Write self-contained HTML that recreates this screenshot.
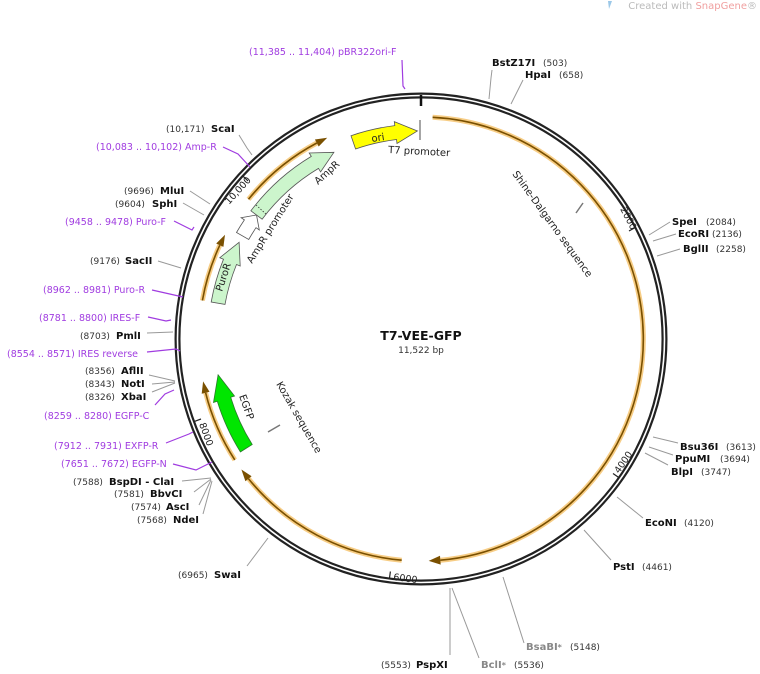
<!DOCTYPE html>
<html><head><meta charset="utf-8"><style>
html,body{margin:0;padding:0;background:#fff;width:760px;height:674px;overflow:hidden}
svg{display:block}
text{font-family:"DejaVu Sans","Liberation Sans",sans-serif}
.e{font-weight:bold;font-size:10px;fill:#111}
.n{font-size:9px;fill:#333}
.p{font-size:9.5px;fill:#a03ce0}
.g{font-weight:bold;font-size:10px;fill:#888}
.gn{font-size:9px;fill:#888}
.l{stroke:#999;stroke-width:1;fill:none}
.pl{stroke:#a03ce0;stroke-width:1.2;fill:none}
.f{font-size:10px;fill:#222}
.og{stroke:#f6c878;stroke-width:5;fill:none;opacity:.9}
.oc{stroke:#7a5000;stroke-width:1.6;fill:none}
.ah{fill:#7a5000}
</style></head><body>
<svg width="760" height="674" viewBox="0 0 760 674" xmlns="http://www.w3.org/2000/svg">
<text x="757" y="9" text-anchor="end" font-size="10" fill="#bbb">Created with <tspan fill="#f0a0a0">SnapGene</tspan>®</text>
<path d="M608,1 l4,0 l-3,8z" fill="#9cc8e8"/>

<!-- backbone -->
<circle cx="421" cy="339" r="243.5" fill="none" stroke="#222" stroke-width="6"/>
<circle cx="421" cy="339" r="243.5" fill="none" stroke="#fff" stroke-width="1.6"/>
<line x1="421" y1="95" x2="421" y2="106" stroke="#111" stroke-width="2.5"/>

<!-- orange arcs -->
<g>
<path class="og" d="M432.6,117.3 A222,222 0 0 1 440.3,560.2"/>
<path class="oc" d="M432.6,117.3 A222,222 0 0 1 440.3,560.2"/>
<path class="ah" d="M428.7,560.9 L440.7,564.6 L440,555.8Z"/>
<path class="og" d="M401.7,560.2 A222,222 0 0 1 248.5,478.7"/>
<path class="oc" d="M401.7,560.2 A222,222 0 0 1 248.5,478.7"/>
<path class="ah" d="M241.4,469.5 L245.4,481.2 L251.6,476.2Z"/>
<path class="og" d="M234.8,459.9 A222,222 0 0 1 205.6,392.7"/>
<path class="oc" d="M234.8,459.9 A222,222 0 0 1 205.6,392.7"/>
<path class="ah" d="M203.1,381.4 L201.7,393.7 L209.5,391.7Z"/>
<path class="og" d="M202.4,300.5 A222,222 0 0 1 219.8,245.2"/>
<path class="oc" d="M202.4,300.5 A222,222 0 0 1 219.8,245.2"/>
<path class="ah" d="M225,234.8 L216.2,243.5 L223.4,246.9Z"/>
<path class="og" d="M248.5,199.3 A222,222 0 0 1 316.8,143"/>
<path class="oc" d="M248.5,199.3 A222,222 0 0 1 316.8,143"/>
<path class="ah" d="M327.2,137.8 L314.9,139.5 L318.7,146.5Z"/>
</g>

<!-- features -->
<path d="M351,135.7 A215,215 0 0 1 394.8,125.6 L394.3,121.6 L417.4,131 L397,143.5 L396.5,139.5 A201,201 0 0 0 355.6,149 Z" fill="#ffff00" stroke="#555" stroke-width="0.8"/>
<text x="0" y="0" font-size="10" fill="#222" transform="translate(372,142) rotate(-9)">ori</text>
<line x1="420" y1="120" x2="420" y2="140" stroke="#888" stroke-width="1.5"/>
<text x="0" y="0" class="f" transform="translate(388,153) rotate(3)">T7 promoter</text>

<path d="M236.5,232.5 A213,213 0 0 1 244.4,219.9 L241.1,217.7 L256.5,215 L259.3,230 L256,227.7 A199,199 0 0 0 248.7,239.5 Z" fill="#fff" stroke="#555" stroke-width="0.8"/>
<path d="M250.9,210.8 A213,213 0 0 1 311.3,156.4 L309.2,153 L333.9,152.3 L320.6,171.9 L318.5,168.4 A199,199 0 0 0 262.1,219.2 Z" fill="#ccf5cc" stroke="#555" stroke-width="0.8"/>
<line x1="256" y1="205" x2="266" y2="214" stroke="#333" stroke-width="0.8" stroke-dasharray="1.5,1.5"/>
<text x="0" y="0" class="f" transform="translate(318,185) rotate(-42)">AmpR</text>
<text x="0" y="0" class="f" transform="translate(252,264) rotate(-58)">AmpR promoter</text>

<path d="M211.2,302 A213,213 0 0 1 223.5,259.2 L219.8,257.7 L239.1,242.3 L240.2,266 L236.5,264.5 A199,199 0 0 0 225,304.4 Z" fill="#ccf5cc" stroke="#555" stroke-width="0.8"/>
<text x="0" y="0" class="f" transform="translate(222,292) rotate(-72)">PuroR</text>

<path d="M240.4,451.9 A213,213 0 0 1 217.3,401.3 L213.5,402.4 L218.1,374.8 L234.5,396 L230.7,397.2 A199,199 0 0 0 252.2,444.5 Z" fill="#00e600" stroke="#2a7a2a" stroke-width="0.8"/>
<text x="0" y="0" class="f" transform="translate(239,396) rotate(70)">EGFP</text>

<line x1="576" y1="213" x2="583" y2="203" stroke="#777" stroke-width="1.5"/>
<text x="0" y="0" class="f" transform="translate(512,174) rotate(54)">Shine-Dalgarno sequence</text>
<line x1="268" y1="432" x2="280" y2="425" stroke="#777" stroke-width="1.5"/>
<text x="0" y="0" class="f" transform="translate(276,384) rotate(60)">Kozak sequence</text>

<!-- ticks -->
<g stroke="#222" stroke-width="1.2">
<line x1="634.8" y1="227.7" x2="629" y2="231"/>
<line x1="618.4" y1="477.2" x2="613" y2="473.5"/>
<line x1="389.5" y1="578" x2="390.4" y2="571.5"/>
<line x1="194.5" y1="421.4" x2="201" y2="419"/>
<line x1="243.3" y1="176.4" x2="248" y2="181"/>
</g>
<text x="0" y="0" font-size="9.5" fill="#222" transform="translate(620,209) rotate(62.5)">2000</text>
<text x="0" y="0" font-size="9.5" fill="#222" transform="translate(619,474) rotate(-55)">4000</text>
<text x="0" y="0" font-size="9.5" fill="#222" transform="translate(393,580) rotate(7.5)">6000</text>
<text x="0" y="0" font-size="9.5" fill="#222" transform="translate(199,424) rotate(70)">8000</text>
<text x="0" y="0" font-size="9.5" fill="#222" transform="translate(229,205) rotate(-47.6)">10,000</text>

<!-- center -->
<text x="421" y="340" text-anchor="middle" font-weight="bold" font-size="12.5" fill="#111">T7-VEE-GFP</text>
<text x="421" y="353" text-anchor="middle" font-size="9" fill="#333">11,522 bp</text>

<!-- top/right labels -->
<text x="249" y="55" class="p">(11,385 .. 11,404)  pBR322ori-F</text>
<polyline class="pl" points="402,60 403,86 405,89"/>
<text x="492" y="66" class="e">BstZ17I</text><text x="543" y="66" class="n">(503)</text>
<polyline class="l" points="492,70 491,78 489,99"/>
<text x="525" y="78" class="e">HpaI</text><text x="559" y="78" class="n">(658)</text>
<polyline class="l" points="523,80 511,104"/>
<text x="672" y="225" class="e">SpeI</text><text x="706" y="225" class="n">(2084)</text>
<line class="l" x1="670" y1="222" x2="649" y2="235"/>
<text x="678" y="237" class="e">EcoRI</text><text x="712" y="237" class="n">(2136)</text>
<line class="l" x1="676" y1="234" x2="653" y2="241"/>
<text x="683" y="252" class="e">BglII</text><text x="716" y="252" class="n">(2258)</text>
<line class="l" x1="680" y1="249" x2="657" y2="256"/>
<text x="680" y="450" class="e">Bsu36I</text><text x="726" y="450" class="n">(3613)</text>
<line class="l" x1="678" y1="443" x2="653" y2="437"/>
<text x="675" y="462" class="e">PpuMI</text><text x="720" y="462" class="n">(3694)</text>
<line class="l" x1="673" y1="455" x2="649" y2="447"/>
<text x="671" y="475" class="e">BlpI</text><text x="701" y="475" class="n">(3747)</text>
<line class="l" x1="668" y1="465" x2="645" y2="453"/>
<text x="645" y="526" class="e">EcoNI</text><text x="684" y="526" class="n">(4120)</text>
<line class="l" x1="643" y1="518" x2="617" y2="497"/>
<text x="613" y="570" class="e">PstI</text><text x="642" y="570" class="n">(4461)</text>
<line class="l" x1="611" y1="560" x2="584" y2="530"/>
<text x="526" y="650" class="g">BsaBI<tspan font-size="8">*</tspan></text><text x="570" y="650" class="n">(5148)</text>
<line class="l" x1="524" y1="643" x2="503" y2="577"/>
<text x="481" y="668" class="g">BclI<tspan font-size="8">*</tspan></text><text x="514" y="668" class="n">(5536)</text>
<line class="l" x1="479" y1="658" x2="452" y2="588"/>
<text x="381" y="668" class="n">(5553)</text><text x="416" y="668" class="e">PspXI</text>
<line class="l" x1="450" y1="655" x2="450" y2="588"/>
<text x="178" y="578" class="n">(6965)</text><text x="214" y="578" class="e">SwaI</text>
<line class="l" x1="247" y1="566" x2="268" y2="538"/>

<!-- left labels -->
<text x="73" y="485" class="n">(7588)</text><text x="109" y="485" class="e">BspDI  - ClaI</text>
<text x="114" y="497" class="n">(7581)</text><text x="150" y="497" class="e">BbvCI</text>
<text x="131" y="510" class="n">(7574)</text><text x="166" y="510" class="e">AscI</text>
<text x="137" y="523" class="n">(7568)</text><text x="173" y="523" class="e">NdeI</text>
<g class="l">
<line x1="182" y1="481" x2="211" y2="478"/>
<line x1="194" y1="492" x2="211" y2="479"/>
<line x1="199" y1="505" x2="211" y2="480"/>
<line x1="203" y1="514" x2="212" y2="481"/>
</g>
<text x="61" y="467" class="p">(7651 .. 7672)  EGFP-N</text>
<polyline class="pl" points="173,464 196,470 212,462"/>
<text x="54" y="449" class="p">(7912 .. 7931)  EXFP-R</text>
<polyline class="pl" points="166,443 189,434 193,432"/>
<text x="44" y="419" class="p">(8259 .. 8280)  EGFP-C</text>
<polyline class="pl" points="155,405 165,394 174,390"/>
<text x="85" y="374" class="n">(8356)</text><text x="121" y="374" class="e">AflII</text>
<text x="85" y="387" class="n">(8343)</text><text x="121" y="387" class="e">NotI</text>
<text x="85" y="400" class="n">(8326)</text><text x="121" y="400" class="e">XbaI</text>
<g class="l">
<line x1="149" y1="375" x2="175" y2="381"/>
<line x1="152" y1="384" x2="175" y2="382"/>
<line x1="152" y1="392" x2="175" y2="383"/>
</g>
<text x="7" y="357" class="p">(8554 .. 8571)  IRES reverse</text>
<polyline class="pl" points="147,352 176,349 180,351"/>
<text x="80" y="339" class="n">(8703)</text><text x="116" y="339" class="e">PmlI</text>
<line class="l" x1="147" y1="333" x2="173" y2="332"/>
<text x="39" y="321" class="p">(8781 .. 8800)  IRES-F</text>
<polyline class="pl" points="148,317 166,321 171,320"/>
<text x="43" y="293" class="p">(8962 .. 8981)  Puro-R</text>
<polyline class="pl" points="152,290 183,297"/>
<text x="90" y="264" class="n">(9176)</text><text x="125" y="264" class="e">SacII</text>
<line class="l" x1="158" y1="261" x2="181" y2="268"/>
<text x="65" y="225" class="p">(9458 .. 9478)  Puro-F</text>
<polyline class="pl" points="174,221 192,230 194,227"/>
<text x="115" y="207" class="n">(9604)</text><text x="152" y="207" class="e">SphI</text>
<line class="l" x1="183" y1="203" x2="204" y2="215"/>
<text x="124" y="194" class="n">(9696)</text><text x="160" y="194" class="e">MluI</text>
<line class="l" x1="190" y1="191" x2="210" y2="204"/>
<text x="96" y="150" class="p">(10,083 .. 10,102)  Amp-R</text>
<polyline class="pl" points="223,147 238,154 250,167"/>
<text x="166" y="132" class="n">(10,171)</text><text x="211" y="132" class="e">ScaI</text>
<polyline class="l" points="239,135 247,148 252,155"/>
</svg>
</body></html>
